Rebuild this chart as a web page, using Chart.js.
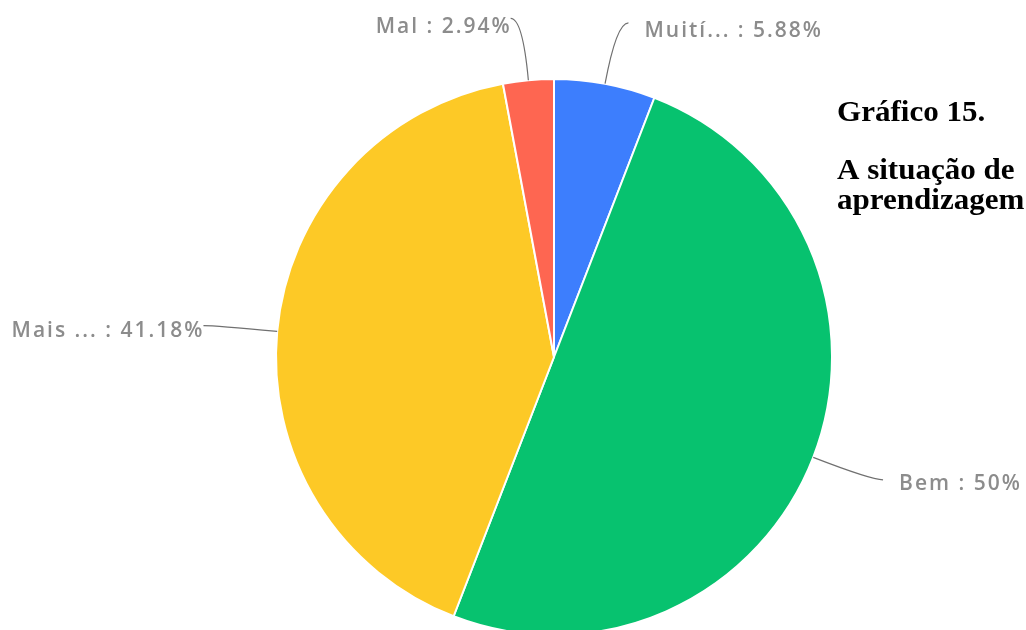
<!DOCTYPE html>
<html>
<head>
<meta charset="utf-8">
<script src="https://cdn.jsdelivr.net/npm/chart.js@4.4.0/dist/chart.umd.min.js"></script>
<style>
  html, body { margin: 0; padding: 0; background: #fff; overflow: hidden; }
  #pie { display: block; }
</style>
</head>
<body>
<canvas id="pie" width="1026" height="630"></canvas>
<script>
  // answer categories, clockwise from the top
  const categories = ['Muití...', 'Bem', 'Mais ...', 'Mal'];
  const percentages = [5.88, 50, 41.18, 2.94];
  const sliceColors = ['#3d7efd', '#07c26f', '#fdc926', '#fe6651'];
  const titleLines = ['Gráfico 15.', 'A situação de', 'aprendizagem'];

  // outside labels joined to each slice by a short curved leader
  const outerLabels = {
    id: 'outerLabels',
    afterDatasetsDraw(chart) {
      const ctx = chart.ctx;
      const meta = chart.getDatasetMeta(0);
      ctx.save();
      ctx.font = '600 21px "Open Sans"';
      ctx.letterSpacing = '2px';
      ctx.fillStyle = '#8c8c8c';
      ctx.strokeStyle = '#707070';
      ctx.lineWidth = 1.2;
      meta.data.forEach((arc, i) => {
        const p = arc.getProps(['x', 'y', 'startAngle', 'endAngle', 'outerRadius'], true);
        const mid = (p.startAngle + p.endAngle) / 2;
        const cos = Math.cos(mid), sin = Math.sin(mid);
        const side = cos >= 0 ? 1 : -1;
        const x0 = p.x + cos * p.outerRadius, y0 = p.y + sin * p.outerRadius;
        const cx = p.x + cos * (p.outerRadius + 62), cy = p.y + sin * (p.outerRadius + 62);
        const ex = cx + side * 12, ey = cy;
        ctx.beginPath();
        ctx.moveTo(x0, y0);
        ctx.quadraticCurveTo(cx, cy, ex, ey);
        ctx.stroke();
        const text = categories[i] + ' : ' + percentages[i] + '%';
        // labels above the pie sit a little lower under their leader
        const drop = 10 - 4 * Math.min(sin, 0);
        ctx.textBaseline = 'alphabetic';
        if (side > 0) {
          ctx.textAlign = 'left';
          ctx.fillText(text, ex + 16, ey + drop);
        } else {
          ctx.textAlign = 'right';
          ctx.fillText(text, ex + 1, ey + drop + 1);
        }
      });
      ctx.restore();
    }
  };

  // caption text to the right of the pie
  const sideCaption = {
    id: 'sideCaption',
    afterDraw(chart) {
      const ctx = chart.ctx;
      ctx.save();
      ctx.font = 'bold 29px "Liberation Serif"';
      ctx.fillStyle = '#000';
      ctx.textAlign = 'left';
      ctx.textBaseline = 'alphabetic';
      ctx.translate(837, 0);
      ctx.scale(1.07, 1);
      ctx.fillText(titleLines[0], 0, 121);
      ctx.fillText(titleLines[1], 0, 179);
      ctx.fillText(titleLines[2], 0, 209);
      ctx.restore();
    }
  };

  new Chart(document.getElementById('pie'), {
    type: 'pie',
    data: {
      labels: categories,
      datasets: [{
        data: percentages,
        backgroundColor: sliceColors,
        borderColor: '#ffffff',
        borderWidth: 2
      }]
    },
    options: {
      responsive: false,
      animation: false,
      radius: 278,
      layout: { padding: { left: 150, right: 68, top: 100, bottom: 16 } },
      plugins: {
        legend: { display: false },
        tooltip: { enabled: false }
      }
    },
    plugins: [outerLabels, sideCaption]
  });
</script>
</body>
</html>
